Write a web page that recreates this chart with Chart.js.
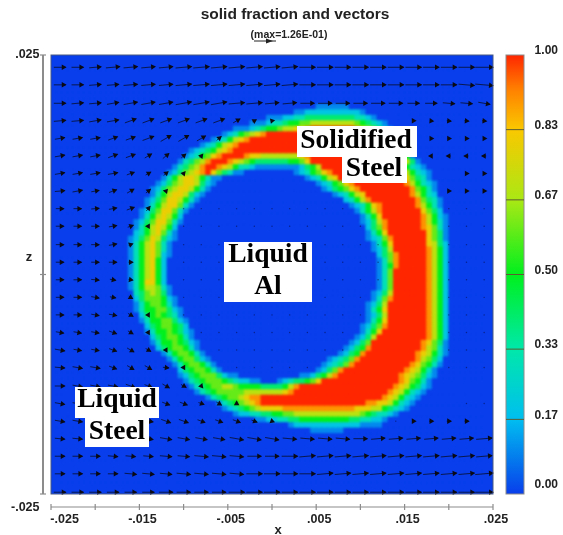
<!DOCTYPE html>
<html><head><meta charset="utf-8">
<style>
html,body{margin:0;padding:0;background:#fff}
#wrap{position:relative;width:563px;height:535px;overflow:hidden}
#heatBox{position:absolute;left:51px;top:55px;width:442px;height:439px;overflow:hidden;background:rgb(8,62,235)}
#h{position:absolute;left:-51px;top:-55px;filter:blur(1.05px)}
#c{position:absolute;left:0;top:0;filter:blur(0.45px)}
</style>
<script src="https://cdn.jsdelivr.net/npm/chart.js@4"></script></head>
<body><div id="wrap"><div id="heatBox"><canvas id="h" width="563" height="535"></canvas></div><canvas id="c" width="563" height="535"></canvas></div>
<script>
// Solid fraction, 80x80 cells. Each row: "col:digits" (tenths, a = 1.0) or "from-to" (a run at 1.0).
const firstSolidRow = 9;
const solidRows = [
"48:111111",
"44:1122222222221",
"39:11122334444444443321",
"36:1112334556677777777654321",
"33:11123455677889 47-54 55:9876421",
"31:123567 37:89 39-56 57:986531",
"29:1235789 36-58 59:97531",
"27:1235789 34-59 60:98631",
"25:12345789 33-61 62:852",
"24:1235689 31-34 35:988777777789 47-62 63:851",
"23:134679 29-31 32:987654444445568 47-63 64:741",
"22:134679aa 30:98753321111111124579 49-61 62:975321",
"21:1246789a864311 44:1235689 51-61 62:a975321",
"20:13578875311 46:123578 52-62 63:a86431",
"19:12467887421 48:1235689 55-62 63:a975321",
"18:12467887531 49:1245689 56-63 64:a96531",
"18:1357887421 51:123578 57-63 64:a97532",
"17:1246887531 53:23579 58-64 65:a96431",
"17:135788631 54:123589 60-64 65:a97531",
"16:124688631 55:13579 60-65 66:a8642",
"16:13578752 56:1358 60-65 66:a97521",
"15:124688631 56:12479 61-65 66:a97531",
"15:13578752 57:2469 61-66 67:98631",
"15:23578631 57:1358 61-66 67:a8641",
"14:124687421 57:12369 62-66 67:a8641",
"14:13578631 58:1358 62-66 67:a8742",
"14:13578631 58:1247 62-66 67:a9752",
"14:13578621 59:2469 63-66 67:a9752",
"14:1357852 59:1369 63-66 67:a9752",
"14:1357852 59:1359 63-66 67:a9752",
"14:1357852 59:136 62-66 67:a9752",
"14:1357852 59:136 62-66 67:a9752",
"14:1358852 59:136 62-66 67:a9752",
"14:13577631 59:136 62-66 67:a9752",
"15:3467641 58:1247 62-66 67:a9752",
"15:24666521 58:1369 62-66 67:a9752",
"15:13566531 57:1247 61-66 67:a9752",
"15:135566421 57:1358 61-66 67:a9752",
"16:24565431 57:1247 61-66 67:a9752",
"16:135566421 57:1358 61-66 67:a9752",
"17:24566542 56:12469 61-66 67:a9752",
"17:135565421 56:1358 60-66 67:a9752",
"18:24566531 55:1247 59-66 67:a9752",
"18:135565421 54:1246 58-66 67:98641",
"19:24566531 53:12459 58-65 66:a97631",
"20:13566531 52:12459 57-64 65:a987531",
"21:13566421 50:123469 56-64 65:a97642",
"22:13566531 49:123469 55-63 64:a986531",
"23:24566531 48:12469 53-62 63:a987531",
"23:12456664211 45:1124579 52-61 62:a9876421",
"24:13456665432211 41:12344568 49-61 62:a986531",
"25:13456677655554444579 45-60 61:a9875421",
"26:134566666777777789 44-59 60:a9875321",
"28:1345667899 38-58 59:a9875321",
"30:13456789 38-55 56:a998875321",
"31:1234567888899999999999998887754321",
"33:12233445566777777777777 56:6543321",
"37:11223344555555555 54:4433221",
"43:12222222222221111",
"47:111111"
];

// Velocity vectors: node positions, arrow length (px/2, "." = tiny dot), direction code per node.
const vecX = [-.024,-.022,-.020,-.018,-.016,-.014,-.012,-.010,-.008,-.006,-.004,-.002,0,.002,.004,.006,.008,.010,.012,.014,.016,.018,.020,.022,.024];
const vecZ = [.0236,.0216,.0195,.0175,.0155,.0135,.0115,.0095,.0075,.0055,.0034,.0014,-.0006,-.0026,-.0046,-.0066,-.0086,-.0106,-.0127,-.0147,-.0167,-.0187,-.0207,-.0227,-.0248];
const vecLen = [
"6667777888888888888888889",
"6666777888888888888888889",
"6666777888887777777766666",
"6666666666421000000011222",
"5555566653000000000001111",
"5555544320000000000001222",
"5555433100000000000000011",
"5544431000000000000000111",
"4444430..........00000...",
"4444310...........0000...",
"4444200............000...",
"4444200............000...",
"4443200............000...",
"4443200...........0000...",
"4444310...........0000...",
"44443100.........00000...",
"544443100........00000...",
"5554443100.....0000000...",
"5555544310000000000000000",
"55555544331000000000000..",
"5555555544431000000.1222",
"5555556666777777777777778",
"5555556677777888888888888",
"5555666777788888888888889",
"6666667777888888888888889"
];
const vecDir = [
"00uuuuuuuuuuuu00000000000",
"00uuuuuuuuuuuu000000000dd",
"0uu1111111uuuu00000000dda",
"uu1122222233100000000dddd",
"1112223334",
"111223445000000000000LLLL",
"11112345",
"u112345",
"00u125",
"000126",
"00012",
"00000",
"00daa",
"00aac",
"00aacf",
"aaabcf",
"aaabccf",
"daabccdf",
"0aaabbcce",
"aaaaaabbbcc",
"aaaaaabbbbbbb",
"ddddaaaaaaaaadddd0uuuuuuu",
"000dddddddd000uuuuuuuuuuu",
"0000ddddddd0000uuuuuuuuuu",
"0000000000000000000000000"
];
const dirDegrees = {"0":0,u:5,"1":10,"2":20,"3":30,"4":40,"5":50,"6":60,d:-5,a:-10,b:-20,c:-30,e:-50,f:-60,L:180};

// Colour scale
const barStops = [0,.17,.33,.5,.67,.83,.92,1];
const barColors = [[8,62,235],[0,190,240],[0,232,170],[0,240,30],[170,232,20],[250,200,0],[255,130,0],[255,38,0]];
const barLines = [.17,.33,.5,.67,.83];
const barTickVals = [.0114,.17,.33,.5,.67,.83,1];
const barTickText = ["0.00","0.17","0.33","0.50","0.67","0.83","1.00"];

// Axes
const xMarks = [-.025,-.02,-.015,-.01,-.005,0,.005,.01,.015,.02,.025];
const xTickVals = [-.0238,-.015,-.005,.005,.015,.025];
const xTickText = ["-.025","-.015","-.005",".005",".015",".025"];
const zMarks = [.025,0,-.025];
const zTickVals = [.025,-.0265];
const zTickText = [".025","-.025"];

function colorOf(v){
  let i=0; while(i<barStops.length-2 && v>barStops[i+1]) i++;
  const t=Math.min(1,Math.max(0,(v-barStops[i])/(barStops[i+1]-barStops[i])));
  const a=barColors[i],b=barColors[i+1];
  return `rgb(${a.map((q,k)=>Math.round(q+(b[k]-q)*t)).join(',')})`;
}
const N=80, cell=.05/N;
const grid=[]; for(let i=0;i<N;i++) grid.push(new Array(N).fill(0));
solidRows.forEach((row,ri)=>{
  row.split(' ').forEach(seg=>{
    if(seg.includes(':')){
      const [s,d]=seg.split(':');
      [...d].forEach((ch,k)=>{grid[ri+firstSolidRow][+s+k]=parseInt(ch,16)/10;});
    } else {
      const [a,b]=seg.split('-').map(Number);
      for(let c=a;c<=b;c++) grid[ri+firstSolidRow][c]=1;
    }
  });
});
const cellPts=[],cellCols=[];
grid.forEach((r,i)=>r.forEach((v,c)=>{
  cellPts.push({x:-.025+(c+.5)*cell,y:.025-(i+.5)*cell});
  cellCols.push(colorOf(v));
}));

const pxX=.05/442, pxZ=.05/439;
const shafts=[],heads=[],headRot=[],dots=[];
vecLen.forEach((row,j)=>{
  [...row.padEnd(25,'0')].forEach((ch,k)=>{
    const x0=vecX[k],z0=vecZ[j];
    if(ch==='.'){dots.push({x:x0,y:z0});return;}
    const L=+ch*2; if(!L) return;
    const deg=dirDegrees[(vecDir[j]||'')[k]||'0']||0, r=deg*Math.PI/180;
    const cx=Math.cos(r), cz=Math.sin(r);
    shafts.push({x:x0-cx*L/2*pxX,y:z0-cz*L/2*pxZ},{x:x0+cx*L/2*pxX,y:z0+cz*L/2*pxZ},{x:null,y:null});
    const h=Math.max(0,L/2-2.5);
    heads.push({x:x0+cx*h*pxX,y:z0+cz*h*pxZ});
    headRot.push(90-deg);
  });
});

const freeText={
  id:'freeText',
  afterDraw(ch){
    const g=ch.ctx,{x,y,yBar}=ch.scales;
    g.save();
    g.strokeStyle='#8c8c8c';g.lineWidth=2;
    g.beginPath();g.moveTo(43,y.getPixelForValue(.025));g.lineTo(43,y.getPixelForValue(-.025));g.stroke();
    g.lineWidth=1.2;
    zMarks.forEach(v=>{const p=y.getPixelForValue(v);g.beginPath();g.moveTo(40,p);g.lineTo(46,p);g.stroke();});
    g.beginPath();g.moveTo(x.getPixelForValue(-.025),507);g.lineTo(x.getPixelForValue(.025),507);g.stroke();
    xMarks.forEach(v=>{const p=x.getPixelForValue(v);g.beginPath();g.moveTo(p,504);g.lineTo(p,510);g.stroke();});
    g.strokeStyle='#4a5a80';g.lineWidth=1;
    const a=ch.chartArea;g.strokeRect(a.left,a.top,a.right-a.left,a.bottom-a.top);
    const top=yBar.getPixelForValue(1),bot=yBar.getPixelForValue(0);
    const gr=g.createLinearGradient(0,bot,0,top);
    barStops.forEach((s,i)=>gr.addColorStop(s,colorOf(s)));
    g.fillStyle=gr;g.fillRect(506,top,18,bot-top);
    g.strokeStyle='#8c8c8c';g.strokeRect(506,top,18,bot-top);
    g.strokeStyle='#5c5c30';
    barLines.forEach(v=>{const p=yBar.getPixelForValue(v);g.beginPath();g.moveTo(506,p);g.lineTo(524,p);g.stroke();});
    g.fillStyle='#222';g.textAlign='center';g.textBaseline='middle';
    g.font='bold 15.5px "Liberation Sans"';
    g.fillText('solid fraction and vectors',295,15);
    g.font='bold 10.5px "Liberation Sans"';
    g.fillText('(max=1.26E-01)',289,35);
    g.font='bold 13px "Liberation Sans"';
    g.fillText('z',29,257);
    g.fillText('x',278,530);
    g.strokeStyle='#222';g.lineWidth=1;g.beginPath();g.moveTo(254,41);g.lineTo(276,41);g.stroke();
    g.beginPath();g.moveTo(273,41);g.lineTo(266,38.5);g.lineTo(266,43.5);g.closePath();g.fill();
    g.fillStyle='#fff';
    [[297,126,120,31],[342,157,65,26],[224,242,88,60],[75,387,84,31],[85,418,64,29]].forEach(b=>g.fillRect(...b));
    g.fillStyle='#000';g.font='bold 27.5px "Liberation Serif"';
    [['Solidified',356,141],['Steel',374,169],['Liquid',268,255],['Al',268,287],['Liquid',117,400],['Steel',117,432]].forEach(t=>g.fillText(...t));
    g.restore();
  }
};

const plotScales=()=>({
  x:{type:'linear',min:-.025,max:.025,position:{y:-.02585},
    grid:{display:false},border:{display:false},
    afterBuildTicks(s){s.ticks=xTickVals.map(v=>({value:v}));},
    ticks:{autoSkip:false,maxRotation:0,labelOffset:3,color:'#222',font:{family:'"Liberation Sans"',size:12.5,weight:'bold'},callback:(v,i)=>xTickText[i]}},
  y:{type:'linear',min:-.025,max:.025,position:{x:-.0263},
    grid:{display:false},border:{display:false},
    afterBuildTicks(s){s.ticks=zTickVals.map(v=>({value:v}));},
    ticks:{autoSkip:false,color:'#222',font:{family:'"Liberation Sans"',size:12.5,weight:'bold'},callback:(v,i)=>zTickText[i]}}
});
const layout={padding:{left:51,top:55,right:70,bottom:41}};

// Cells live on their own softened canvas under the vectors
const heatScales=plotScales();
heatScales.x.display=false;heatScales.y.display=false;
new Chart(document.getElementById('h'),{
  type:'scatter',
  data:{datasets:[{label:'solid fraction',data:cellPts,pointStyle:'rect',pointRadius:4.6,pointBorderWidth:0,pointBackgroundColor:cellCols}]},
  options:{responsive:false,animation:false,events:[],layout,plugins:{legend:{display:false},tooltip:{enabled:false}},scales:heatScales}
});

const mainScales=plotScales();
mainScales.yBar={type:'linear',axis:'y',min:0,max:1,position:{x:.03235},
  grid:{display:false},border:{display:false},
  afterBuildTicks(s){s.ticks=barTickVals.map(v=>({value:v}));},
  ticks:{autoSkip:false,labelOffset:-4,color:'#222',font:{family:'"Liberation Sans"',size:12,weight:'bold'},callback:(v,i)=>barTickText[i]}};
new Chart(document.getElementById('c'),{
  type:'scatter',
  data:{datasets:[
    {label:'shafts',data:shafts,showLine:true,borderColor:'rgba(10,10,20,.8)',borderWidth:.9,pointRadius:0,spanGaps:false,clip:false,order:2},
    {label:'heads',data:heads,pointStyle:'triangle',pointRadius:3.2,pointRotation:headRot,pointBackgroundColor:'#0a0a14',pointBorderWidth:0,clip:false,order:1},
    {label:'dots',data:dots,pointRadius:.7,pointBackgroundColor:'rgba(10,10,60,.55)',pointBorderWidth:0,order:1}
  ]},
  options:{responsive:false,animation:false,events:[],layout,plugins:{legend:{display:false},tooltip:{enabled:false}},scales:mainScales},
  plugins:[freeText]
});
</script></body></html>
